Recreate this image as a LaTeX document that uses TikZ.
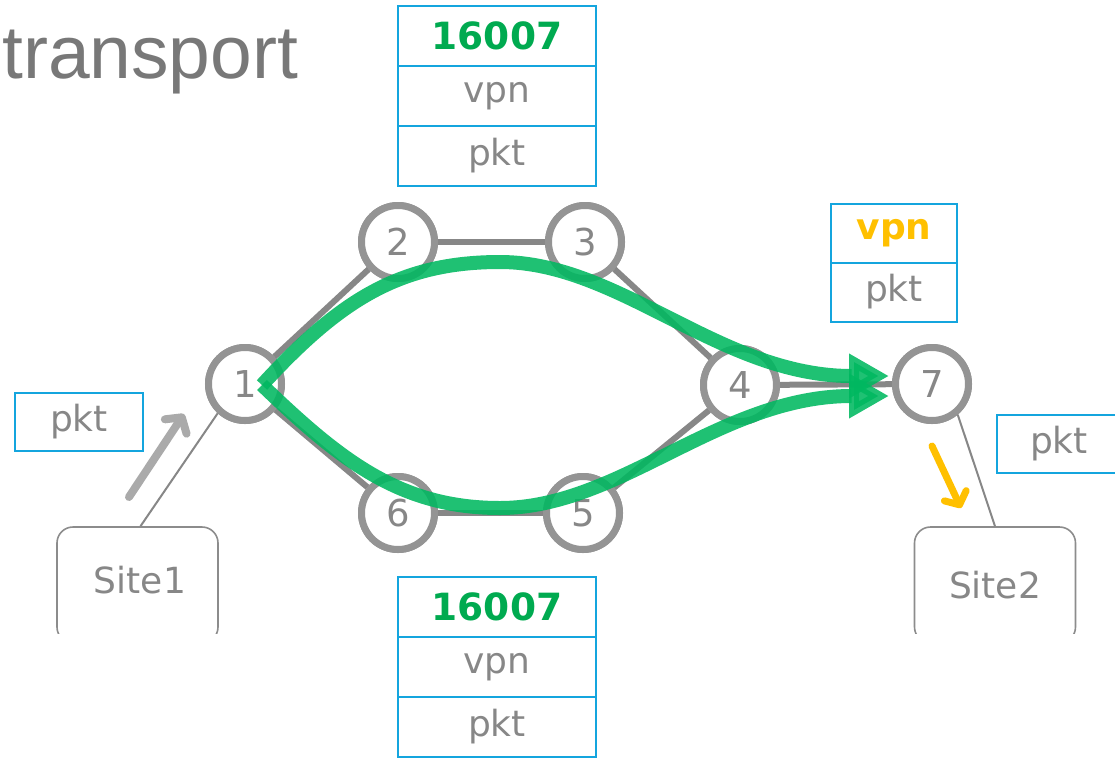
\documentclass[tikz,border=0pt]{standalone}
\usepackage{fontspec}
\setmainfont{DejaVu Sans}
\newfontfamily\titlefont{Liberation Sans}
\usetikzlibrary{arrows.meta}
\definecolor{txtgray}{RGB}{135,135,135}
\definecolor{circgray}{RGB}{148,148,148}
\definecolor{edgegray}{RGB}{135,135,135}
\definecolor{boxcyan}{RGB}{20,165,222}
\definecolor{pathgreen}{RGB}{0,184,96}
\definecolor{labgreen}{RGB}{0,170,80}
\definecolor{labyellow}{RGB}{255,192,0}
\definecolor{sitegray}{RGB}{140,140,140}
\tikzset{
  lbl/.style={font=\fontsize{36}{40}\selectfont, text=txtgray},
  circ/.style={circle, draw=circgray, line width=7pt, fill=white, minimum size=73pt, inner sep=0pt, lbl, font=\fontsize{37}{40}\selectfont},
  edge/.style={draw=edgegray, line width=6pt},
  cell/.style={draw=boxcyan, line width=2pt, minimum width=198pt, minimum height=60pt, inner sep=0pt, lbl},
  smallcell/.style={draw=boxcyan, line width=2pt, minimum width=126pt, minimum height=59pt, inner sep=0pt, lbl},
  pktbox/.style={draw=boxcyan, line width=2pt, minimum width=128pt, minimum height=58pt, inner sep=0pt, lbl},
  site/.style={draw=sitegray, line width=1.6pt, rounded corners=16pt, minimum width=161pt, minimum height=116pt, inner sep=0pt, lbl},
  thin/.style={draw=edgegray, line width=2pt},
  greenpath/.style={draw=pathgreen, line width=14pt, draw opacity=0.88, fill opacity=0.88, -{Triangle[length=40pt,width=42pt]}},
  bignum/.style={font=\fontsize{37.5}{40}\bfseries\selectfont, text=labgreen},
}
\begin{document}
\begin{tikzpicture}[x=1pt,y=-1pt]
\useasboundingbox (0,0) rectangle (1115,758);
% title
\node[anchor=base west, inner sep=0pt, text={rgb,255:red,120;green,120;blue,120}, font=\titlefont\fontsize{75}{80}\selectfont] (title) at (2,78) {transport};
% network node positions
\coordinate (p1) at (245,384);
\coordinate (p2) at (398,242);
\coordinate (p3) at (585,242);
\coordinate (p4) at (740,385);
\coordinate (p5) at (583,513);
\coordinate (p6) at (398,513);
\coordinate (p7) at (932,384);
\node[circ] (n1) at (p1) {1};
\node[circ] (n2) at (p2) {2};
\node[circ] (n3) at (p3) {3};
\node[circ] (n4) at (p4) {4};
\node[circ] (n5) at (p5) {5};
\node[circ] (n6) at (p6) {6};
\node[circ] (n7) at (p7) {7};
% edges
\path[edge] (n1) -- (n2);
\path[edge] (n2) -- (n3);
\path[edge] (n3) -- (n4);
\path[edge] (n4) -- (n7);
\path[edge] (n4) -- (n5);
\path[edge] (n5) -- (n6);
\path[edge] (n6) -- (n1);
% circles again on top of the edges
\node[circ] at (p1) {1};
\node[circ] at (p2) {2};
\node[circ] at (p3) {3};
\node[circ] at (p4) {4};
\node[circ] at (p5) {5};
\node[circ] at (p6) {6};
\node[circ] at (p7) {7};
% sites (bottom edge clipped away)
\begin{scope}
\clip (0,0) rectangle (1115,633);
\node[site] (s1) at (137.5,585) {};
\node[site] (s2) at (995,585) {};
\end{scope}
\node[lbl] at (140,580) {Site1};
\node[lbl] at (995,585) {Site2};
\draw[thin] (s1.north) ++(3,0) -- (n1.-133);
\draw[thin] (s2.north) -- (n7.-50);
% packet boxes
\node[cell] (a1) at (497,36) {\textcolor{labgreen}{\fontsize{37.5}{40}\bfseries\selectfont 16007}};
\node[cell] (a2) at (497,96) {vpn};
\node[cell] (a3) at (497,156) {pkt};
\node[cell] (b1) at (497,607) {\textcolor{labgreen}{\fontsize{37.5}{40}\bfseries\selectfont 16007}};
\node[cell] (b2) at (497,667) {vpn};
\node[cell] (b3) at (497,727) {pkt};
\node[smallcell] (c1) at (894,233) {\textbf{\color{labyellow}vpn}};
\node[smallcell] (c2) at (894,292) {pkt};
\node[pktbox] (d1) at (79,422) {\raisebox{-4pt}{pkt}};
\node[pktbox, anchor=west] (d2) at (996,444) {\hspace*{-4pt}\raisebox{-2pt}{pkt}};
% green LSP paths
\coordinate (g0) at (262,385);
\coordinate (t1) at (889,376);
\coordinate (t2) at (889,396);
\draw[greenpath] (g0) .. controls (340,300) and (400,262) .. (500,262) .. controls (620,262) and (720,376) .. (t1);
\draw[greenpath] (g0) .. controls (340,460) and (400,508) .. (500,508) .. controls (620,508) and (720,396) .. (t2);
% ingress / egress arrows
\coordinate (ga) at (129,497);
\coordinate (gb) at (184,414);
\draw[draw={rgb,255:red,170;green,170;blue,170}, line width=8pt, line cap=round, -{Straight Barb[length=11pt,width=26pt,round]}] (ga) -- (gb);
\coordinate (ya) at (932,446);
\coordinate (yb) at (961,508);
\draw[draw=labyellow, line width=7pt, line cap=round, -{Straight Barb[length=10pt,width=24pt,round]}] (ya) -- (yb);
\end{tikzpicture}
\end{document}
